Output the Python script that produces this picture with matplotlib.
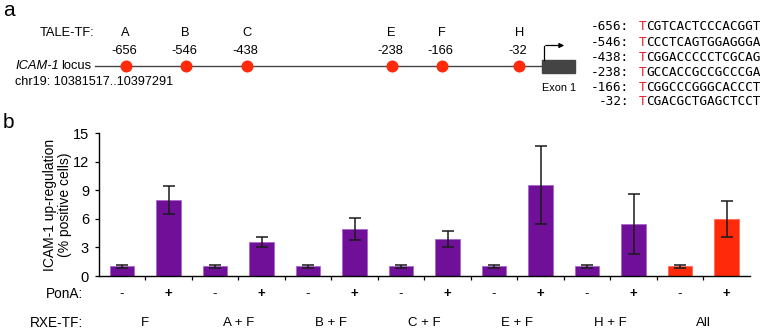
import matplotlib
matplotlib.use("Agg")
import matplotlib.pyplot as plt
import numpy as np

# ---------------- data ----------------
tale_names = ["A", "B", "C", "E", "F", "H"]
tale_positions = ["-656", "-546", "-438", "-238", "-166", "-32"]
sequences = ["TCGTCACTCCCACGGT", "TCCCTCAGTGGAGGGA", "TCGGACCCCCTCGCAG",
             "TGCCACCGCCGCCCGA", "TCGGCCCGGGCACCCT", "TCGACGCTGAGCTCCT"]

groups = ["F", "A + F", "B + F", "C + F", "E + F", "H + F", "All"]
pona = ["-", "+"]
values_minus = [1.0, 1.0, 1.0, 1.0, 1.0, 1.0, 1.0]
err_minus = [0.15, 0.15, 0.15, 0.15, 0.15, 0.15, 0.15]
values_plus = [8.0, 3.6, 4.95, 3.9, 9.6, 5.5, 6.0]
err_plus = [1.5, 0.5, 1.15, 0.8, 4.1, 3.15, 1.9]
yticks = [0, 3, 6, 9, 12, 15]

# ---------------- layout ----------------
W, H = 760, 332
FONT = "Liberation Sans"
MONO = "DejaVu Sans Mono"
PURPLE = "#700F98"
RED = "#FF2A0A"
site_x = [125.7, 185.7, 246.7, 391.7, 441.7, 519.3]   # schematic positions (px)

fig = plt.figure(figsize=(W / 100, H / 100), dpi=100)

# ---------- panel a : schematic in pixel coordinates ----------
axa = fig.add_axes([0, 0, 1, 1])
axa.set_xlim(0, W)
axa.set_ylim(H, 0)
axa.axis("off")

FA = 9.3
axa.text(3, 11, "a", fontsize=15, family=FONT, va="center", ha="left")
axa.text(94, 33, "TALE-TF:", fontsize=FA, family=FONT, va="center", ha="right")
line_y = 65.7
axa.plot([95, 542.3], [line_y, line_y], color="#444444", lw=1.0, zorder=1)
axa.scatter(site_x, [line_y] * len(site_x), s=75, color=RED, zorder=3, linewidths=0)
for xx, nm, ps in zip(site_x, tale_names, tale_positions):
    axa.text(xx, 33, nm, fontsize=FA, family=FONT, va="center", ha="center")
    axa.text(xx - 1.5, 51, ps, fontsize=FA, family=FONT, va="center", ha="center")

axa.text(15, line_y, "ICAM-1", fontsize=FA, family=FONT, style="italic", va="center", ha="left")
axa.text(91, line_y, "locus", fontsize=FA, family=FONT, va="center", ha="right")
axa.text(15, 81.7, "chr19: 10381517..10397291", fontsize=9.1, family=FONT, va="center", ha="left")

# exon box and TSS arrow
axa.add_patch(plt.Rectangle((542.3, 60), 32.7, 12.7, facecolor="#444444", edgecolor="#444444", zorder=2))
axa.plot([543.5, 543.5], [60, 45.5], color="black", lw=0.9)
axa.annotate("", xy=(567, 45.5), xytext=(543.0, 45.5),
             arrowprops=dict(arrowstyle="-|>", color="black", lw=0.9, mutation_scale=7))
axa.text(559, 88.3, "Exon 1", fontsize=7.8, family=FONT, va="center", ha="center")

seq_y = [26.7, 42.3, 57.3, 72.7, 87.7, 101.7]
for yy, ps, sq in zip(seq_y, tale_positions, sequences):
    axa.text(629, yy, ps + ":", fontsize=9.2, family=MONO, va="center", ha="right")
    axa.text(638.3, yy, sq[0], fontsize=9.2, family=MONO, va="center", ha="left", color="#E8202A")
    axa.text(638.3 + 7.65, yy, sq[1:], fontsize=9.2, family=MONO, va="center", ha="left")

axa.text(3, 122, "b", fontsize=15, family=FONT, va="center", ha="left")

# ---------- panel b : bar chart ----------
left, right = 98.75, 749.75
ybot, ytop = 276.0, 133.3
axb = fig.add_axes([left / W, (H - ybot) / H, (right - left) / W, (ybot - ytop) / H])

vals, errs, cols, signs = [], [], [], []
for i, g in enumerate(groups):
    c = RED if g == "All" else PURPLE
    vals += [values_minus[i], values_plus[i]]
    errs += [err_minus[i], err_plus[i]]
    cols += [c, c]
    signs += pona
x = np.arange(len(vals))
edge = ["#A868C8" if c == PURPLE else "#FF6A50" for c in cols]
axb.bar(x, vals, width=0.52, color=cols, edgecolor=edge, linewidth=0.6, zorder=2)
axb.errorbar(x, vals, yerr=errs, fmt="none", ecolor="#1a1a1a", elinewidth=1.1,
             capsize=4, capthick=1.1, zorder=3)

axb.set_xlim(-0.5, len(vals) - 0.5)
axb.set_ylim(0, 15)
axb.set_yticks(yticks)
axb.set_yticklabels([str(t) for t in yticks], fontsize=10.5, family=FONT)
axb.set_xticks(np.arange(0.5, len(vals) - 0.5, 1.0))
axb.set_xticklabels([])
axb.tick_params(axis="both", direction="out", length=3, width=0.9, pad=4)
for s in ["top", "right"]:
    axb.spines[s].set_visible(False)
for s in ["left", "bottom"]:
    axb.spines[s].set_linewidth(1.0)
fig.text(57.5 / W, (H - 204.5) / H, "ICAM-1 up-regulation\n(% positive cells)", fontsize=10,
         family=FONT, rotation=90, ha="center", va="center", linespacing=1.05, multialignment="center")

trans = axb.get_xaxis_transform()
py = -(294 - ybot) / (ybot - ytop)
ry = -(322.7 - ybot) / (ybot - ytop)
for xi, sg in zip(x, signs):
    axb.text(xi, py, sg, transform=trans, fontsize=9.5, family=FONT, ha="center", va="center",
             fontweight="bold" if sg == "+" else "normal")
for i, g in enumerate(groups):
    axb.text(2 * i + 0.5, ry, g, transform=trans, fontsize=9.5, family=FONT, ha="center", va="center")
fig.text(82.7 / W, (H - 294) / H, "PonA:", fontsize=9.8, family=FONT, ha="right", va="center")
fig.text(82.7 / W, (H - 322.7) / H, "RXE-TF:", fontsize=9.8, family=FONT, ha="right", va="center")

fig.savefig("out.png", dpi=100)
